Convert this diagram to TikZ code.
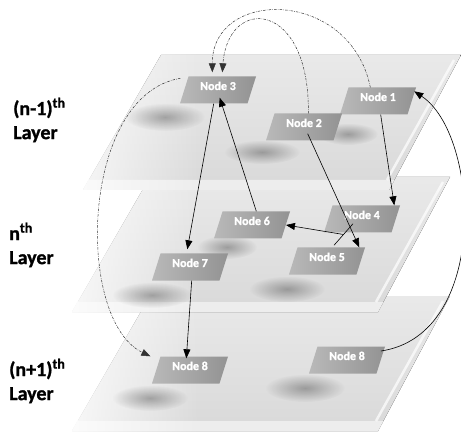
\documentclass[tikz,border=0pt]{standalone}
\usepackage{fontspec}
\setmainfont{Carlito}[BoldFeatures={FakeBold=1.2}]
\usetikzlibrary{shapes.geometric,arrows.meta,fadings,calc}
\tikzfading[name=leftfade, left color=transparent!0, right color=transparent!100]
\tikzfading[name=blob, inner color=transparent!0, outer color=transparent!100]
\newcommand\drawlayer[2]{%
  \begin{scope}[shift={(#1,#2)}]
    \fill[top color=gray!17, bottom color=gray!30] (78,0) -- (378,0) -- (306,135) -- (0,135) -- cycle;
    \fill[gray!14] (5.2,125) -- (311.3,125) -- (306,135) -- (0,135) -- cycle;
    \draw[white, line width=2.5pt, opacity=0.7] (371,5) -- (304,125);
  \end{scope}}
\begin{document}
\begin{tikzpicture}[x=1pt,y=-1pt,
  nd/.style={trapezium, trapezium left angle=62, trapezium right angle=118,
    trapezium stretches body=true, minimum width=76pt, minimum height=27pt,
    inner sep=0pt, text height=8pt, text depth=8pt,
    left color=gray!55, middle color=gray!62, right color=gray!85, text=white,
    font=\bfseries\fontsize{12}{14}\selectfont},
  arr/.style={-{Triangle[length=9pt,width=7pt]}, line width=0.6pt, black},
  dd/.style={dash pattern=on 2.5pt off 1.2pt on 0.6pt off 1.2pt, line width=0.5pt,
    black!80, -{Triangle[length=9pt,width=7pt]}},
  lbl/.style={anchor=west, align=left, inner sep=0pt,
    font=\bfseries\fontsize{20}{24}\selectfont},
  shadow/.style={fill=black, opacity=0.3, path fading=blob}]
\useasboundingbox (0,0) rectangle (461,433);
\fill[white] (0,0) rectangle (461,433);
% layers
\drawlayer{72}{296}
\drawlayer{72}{177}
\drawlayer{83}{55}
% left fade
\fill[white] (0,40) rectangle (45,440);
\fill[white, path fading=leftfade] (44,40) rectangle (200,440);
% shadows
\fill[shadow] (165,117) ellipse [x radius=40pt, y radius=14pt];
\fill[shadow] (262,152) ellipse [x radius=38pt, y radius=12pt];
\fill[shadow] (348,134) ellipse [x radius=30pt, y radius=11pt];
\fill[shadow] (227,247) ellipse [x radius=30pt, y radius=12pt];
\fill[shadow] (152,295) ellipse [x radius=40pt, y radius=13pt];
\fill[shadow] (287,289) ellipse [x radius=38pt, y radius=13pt];
\fill[shadow] (150,398) ellipse [x radius=38pt, y radius=13pt];
\fill[shadow] (305,388) ellipse [x radius=40pt, y radius=14pt];
% nodes
\node[nd] (n3) at (218,90) {Node 3};
\node[nd] (n1) at (378,101) {Node 1};
\node[nd] (n2) at (304,127) {Node 2};
\node[nd] (n6) at (252,225) {Node 6};
\node[nd] (n4) at (362,219) {Node 4};
\node[nd] (n5) at (327,261) {Node 5};
\node[nd] (n7) at (190,267) {Node 7};
\node[nd] (n8l) at (190,370) {Node 8};
\node[nd] (n8r) at (347,360) {Node 8};
% solid edges
\draw[arr] ([xshift=7pt]n1.bottom side) -- ([xshift=-6pt]n4.top right corner);
\draw[arr] (n3.bottom side) -- ([xshift=-7pt,yshift=4pt]n7.top side);
\draw[arr] (n6.top side) -- ([xshift=6pt,yshift=6pt]n3.bottom side);
\draw[arr] ([xshift=8pt,yshift=7pt]n2.bottom side) -- ([xshift=-6pt]n5.top right corner);
\draw[line width=0.6pt] ([xshift=-9pt,yshift=9pt]n4.south) -- coordinate (m45) ([xshift=7pt,yshift=2pt]n5.north);
\draw[arr] (m45) -- (n6.right side);
\draw[arr] ([xshift=6pt]n7.bottom side) -- ([xshift=-8pt,yshift=-2pt]n8l.top side);
\draw[arr] ([yshift=9pt]n8r.right side) .. controls (490,335) and (480,135) .. ([xshift=-2pt,yshift=-4pt]n1.top right corner);
% dash-dot edges
\draw[dd] ([xshift=-12pt]n1.top side) .. controls (350,-12) and (212,-12) .. ([xshift=-10pt,yshift=4pt]n3.top side);
\draw[dd] (n2.top side) .. controls (310,0) and (228,-5) .. ([yshift=4pt]n3.top side);
\draw[dd] ([xshift=-8pt,yshift=-2pt]n3.top left corner) .. controls (80,95) and (75,320) .. ([xshift=-10pt]n8l.top left corner);
% labels
\node[lbl] (l1) at (13,120) {(n-1)\textsuperscript{th}\\Layer};
\node[lbl] (l2) at (9,245) {n\textsuperscript{th}\\Layer};
\node[lbl] (l3) at (9,381) {(n+1)\textsuperscript{th}\\Layer};
\end{tikzpicture}
\end{document}
